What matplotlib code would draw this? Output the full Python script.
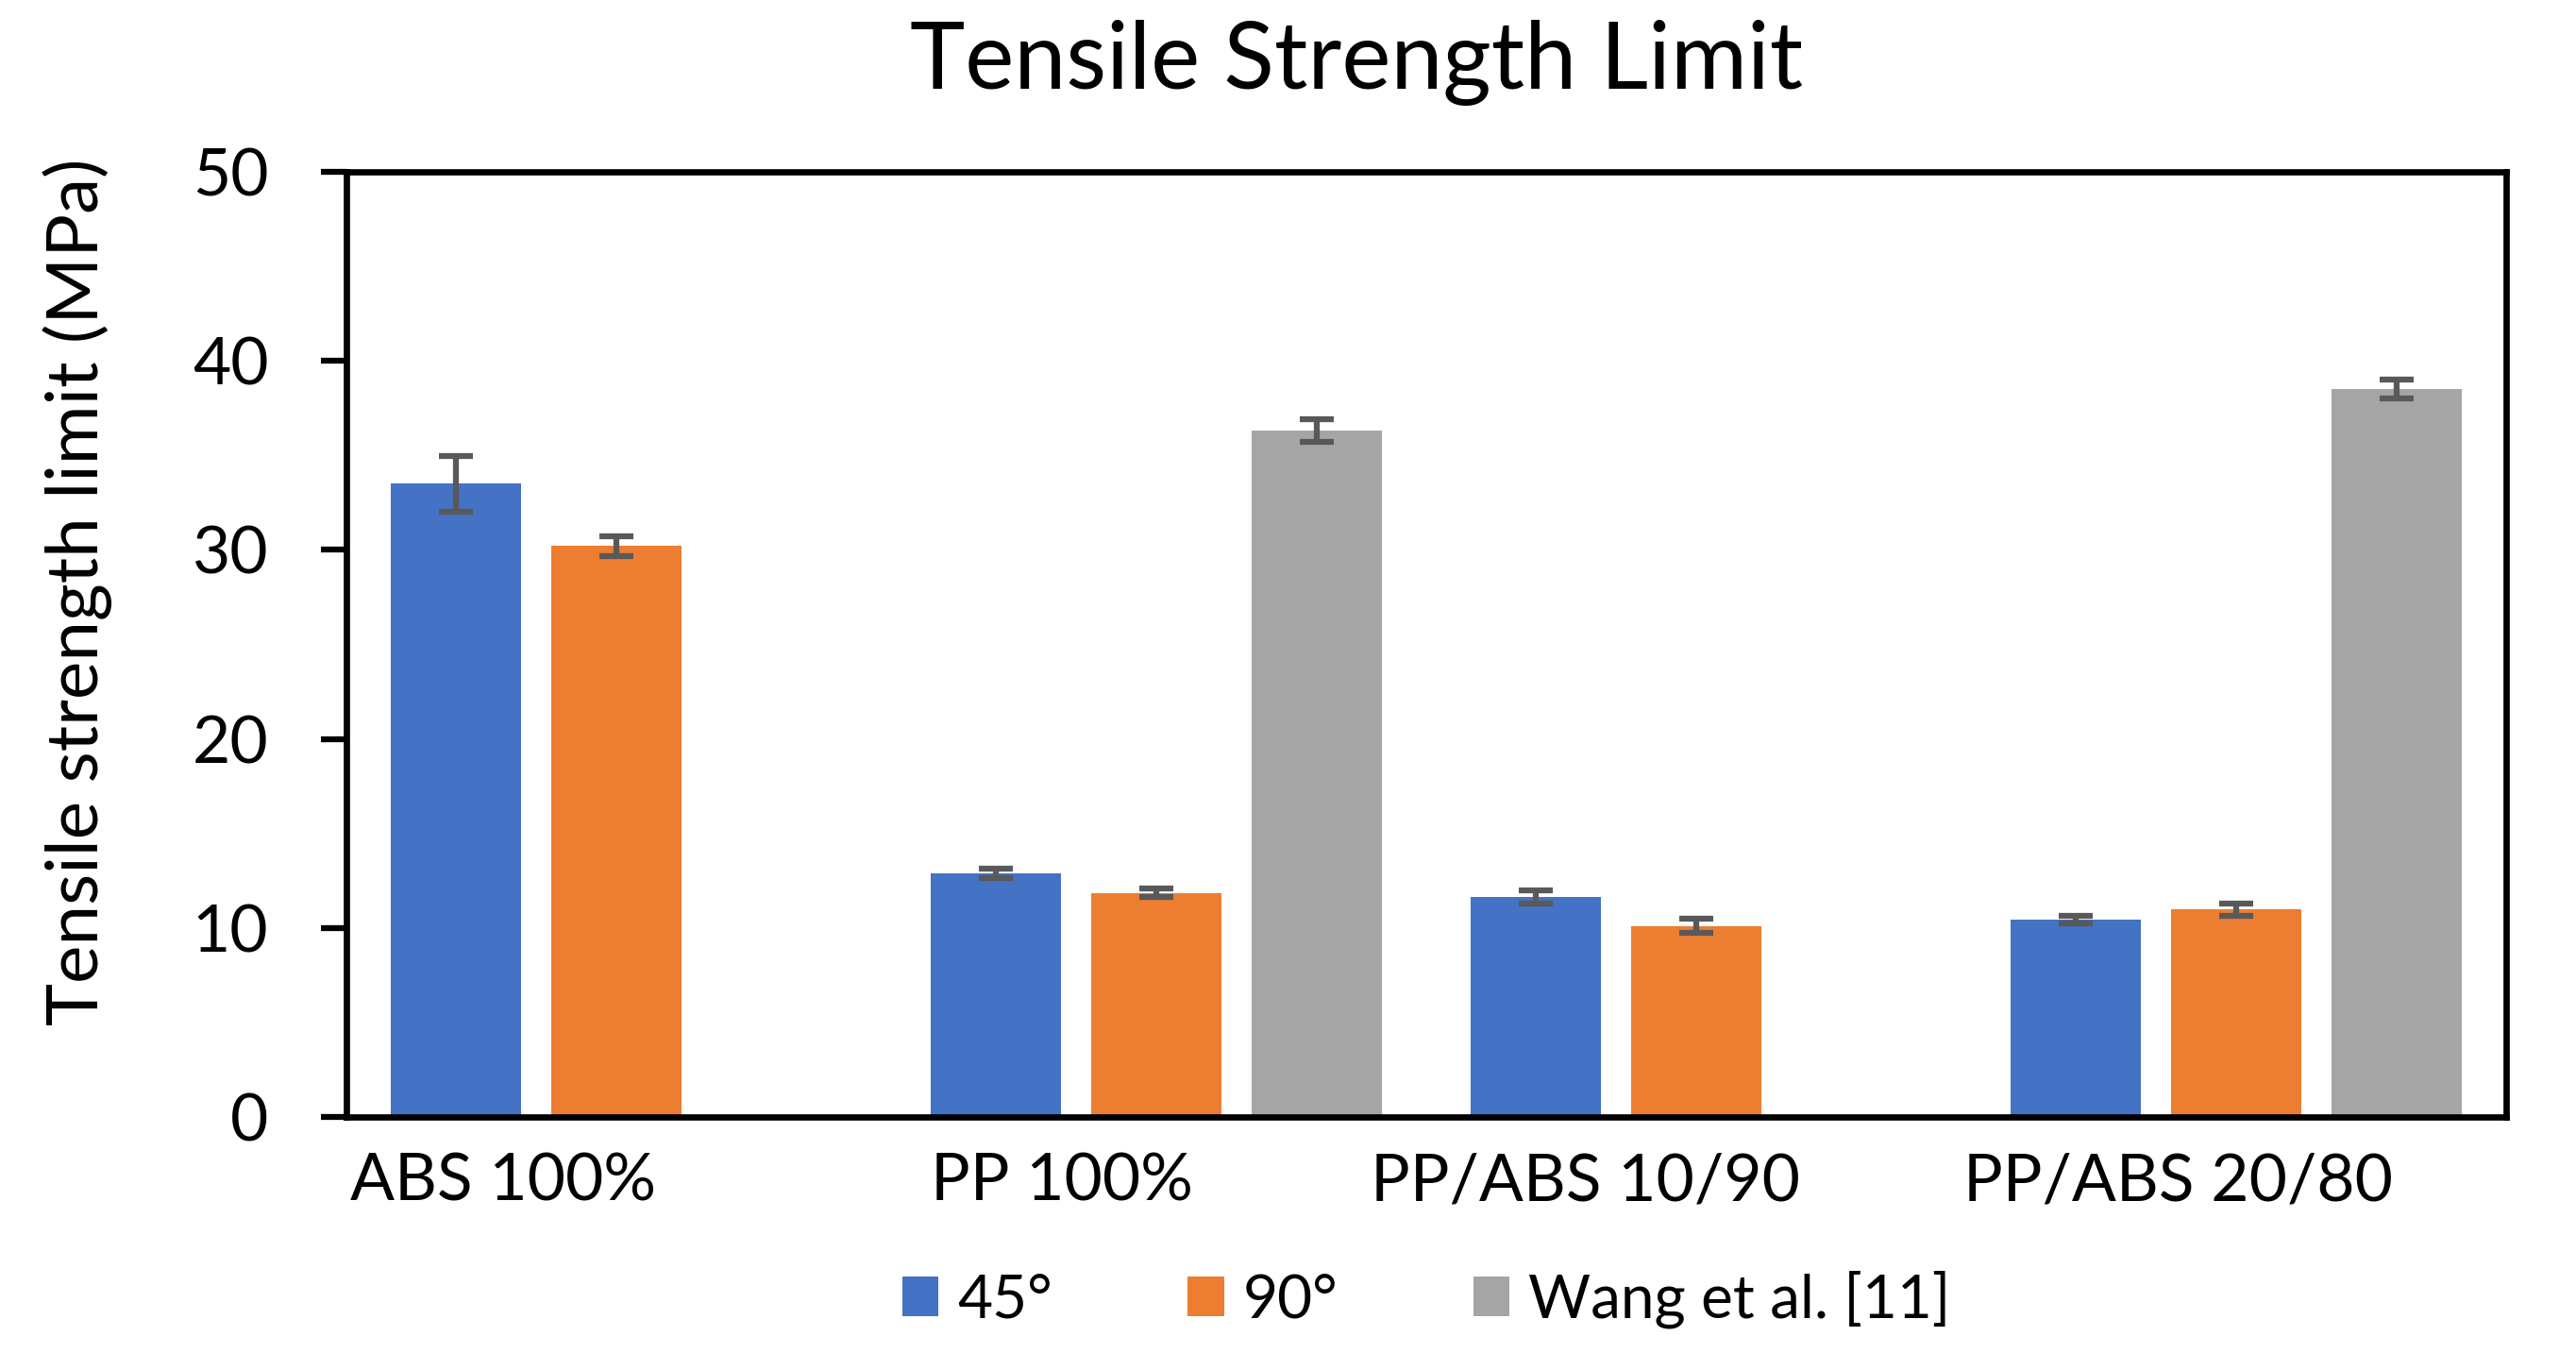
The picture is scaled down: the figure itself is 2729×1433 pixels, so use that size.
import matplotlib
matplotlib.use("Agg")
import matplotlib.pyplot as plt
import numpy as np
from matplotlib.patches import Patch

categories = ["ABS 100%", "PP 100%", "PP/ABS 10/90", "PP/ABS 20/80"]
series_names = ["45°", "90°", "Wang et al. [11]"]
vals_45 = [33.5, 12.9, 11.65, 10.45]
err_45 = [1.47, 0.25, 0.35, 0.2]
vals_90 = [30.2, 11.85, 10.1, 10.97]
err_90 = [0.53, 0.23, 0.37, 0.31]
vals_wang = [np.nan, 36.3, np.nan, 38.5]
err_wang = [0.0, 0.6, 0.0, 0.5]
yticks = [0, 10, 20, 30, 40, 50]
label_shift = [-0.21, -0.175, -0.206, -0.107]

colors = ["#4472C4", "#ED7D31", "#A5A5A5"]
plt.rcParams['font.family'] = ['Lato', 'DejaVu Sans']

W, H = 2729, 1433
L, R, T, B = 367, 2655, 182, 1183
fig = plt.figure(figsize=(W/100, H/100), dpi=100)
ax = fig.add_axes([L/W, 1-B/H, (R-L)/W, (B-T)/H])

x = np.arange(len(categories))
slot = 0.297
bw = 0.241
ekw = dict(ecolor="#595959", elinewidth=4.5, capsize=13, capthick=4.5)
for i, (v, e) in enumerate([(vals_45, err_45), (vals_90, err_90), (vals_wang, err_wang)]):
    v = np.array(v, dtype=float)
    e = np.array(e, dtype=float)
    mask = ~np.isnan(v)
    ax.bar(x[mask] + (i - 1) * slot, v[mask], width=bw, color=colors[i],
           yerr=e[mask], error_kw=ekw, zorder=2)

ax.set_xlim(-0.5, len(categories) - 0.5)
ax.set_ylim(0, 50)
ax.set_yticks(yticks)
ax.set_yticklabels([str(t) for t in yticks], fontsize=50)
ax.tick_params(axis='y', length=19.5, width=4.5, pad=40, direction='out')
ax.set_xticks(x + np.array(label_shift))
ax.set_xticklabels(categories, fontsize=50)
ax.tick_params(axis='x', length=0, pad=27)
for s in ax.spines.values():
    s.set_linewidth(4.8)
    s.set_color("black")

fig.text(82/W, 1-627/H, "Tensile strength limit (MPa)", rotation=90,
         ha='center', va='center', fontsize=55)
fig.text(1437/W, 1-94/H, "Tensile Strength Limit", ha='center', va='baseline', fontsize=71)

handles = [Patch(facecolor=c, edgecolor='none') for c in colors]
fig.legend(handles, series_names, loc='center', bbox_to_anchor=(1511/W, 1-1376/H),
           ncol=3, frameon=False, fontsize=46, handlelength=0.6, handleheight=0.63,
           handletextpad=0.31, columnspacing=2.25)

fig.savefig("out.png", dpi=100, facecolor="white")
